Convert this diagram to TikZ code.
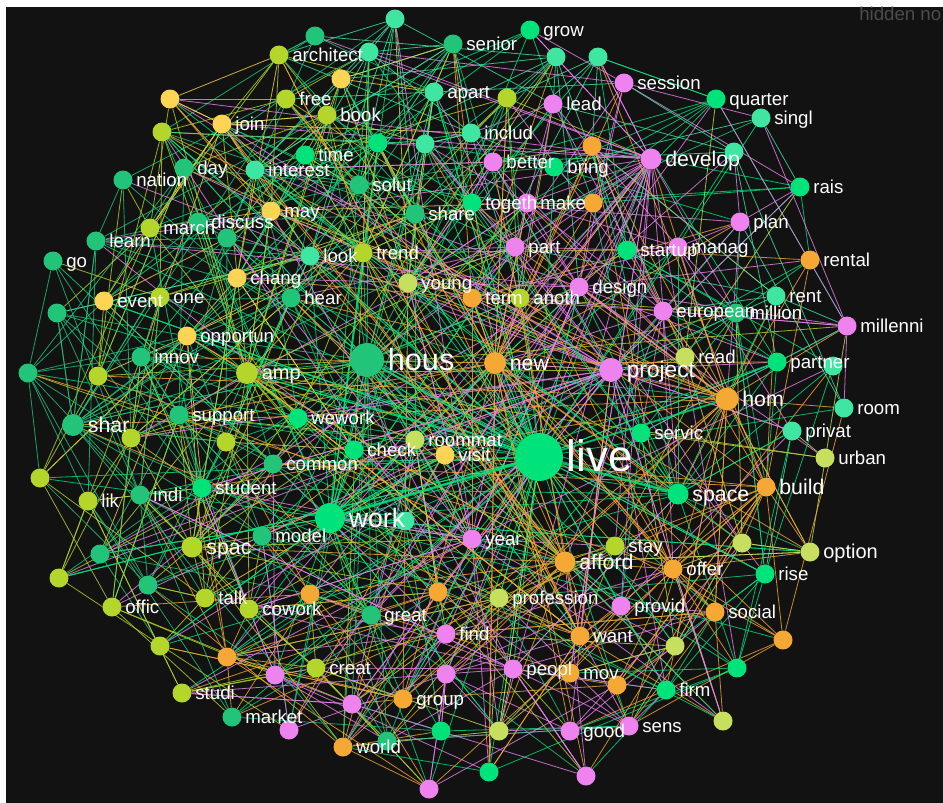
\documentclass[tikz,border=0pt]{standalone}
\usepackage{fontspec}
\setmainfont{Liberation Sans}

\definecolor{bgdark}{HTML}{121212}
\definecolor{cgrn}{HTML}{22C47A}
\definecolor{cmint}{HTML}{3FE6A2}
\definecolor{cbri}{HTML}{00E27A}
\definecolor{cyg}{HTML}{B4D62A}
\definecolor{cpale}{HTML}{C6DF5E}
\definecolor{cgold}{HTML}{FDD453}
\definecolor{corg}{HTML}{F5A833}
\definecolor{cvio}{HTML}{EE82EE}

\pgfdeclarelayer{bg}
\pgfdeclarelayer{fg}
\pgfsetlayers{bg,main,fg}

\tikzset{
  dot/.style={circle, inner sep=0pt, draw=none, fill=#1},
  lbl/.style={anchor=base west, inner sep=0pt, text=white, xshift=2.5pt},
  link/.style={draw=#1, line width=.6pt, opacity=.8},
}

\begin{document}
\begin{tikzpicture}[x=.75pt, y=-.75pt]
    \useasboundingbox (0,0) rectangle (943,803);
    \begin{pgfonlayer}{bg}
    \fill[white] (0,0) rectangle (943,803);
    \fill[bgdark] (6,7) rectangle (943,803); %dark canvas
    \end{pgfonlayer}

    % words: label/x/y/colour/radius/font size (0 = no label)
    \foreach \t/\x/\y/\c/\r/\fs [count=\i] in {
      -/395/19/cmint/9.5/0, -/315/36/cgrn/9.5/0, grow/530/30/cbri/9.5/14, senior/453/44/cgrn/9.5/14,
      -/369/52/cmint/9.5/0, architect/279/55/cyg/9.5/14, -/556/57/cmint/9.5/0, -/598/57/cmint/9.5/0,
      -/341/79/cgold/9.5/0, session/624/83/cvio/9.5/14, apart/434/92/cmint/9.5/14, -/507/98/cyg/9.5/0,
      -/170/99/cgold/9.5/0, free/286/99/cyg/9.5/14, quarter/716/99/cbri/9.5/14, lead/553/104/cvio/9.5/14,
      book/327/115/cyg/9.5/14, singl/761/118/cmint/9.5/14, join/222/124/cgold/9.5/14, -/162/132/cyg/9.5/0,
      includ/471/133/cmint/9.5/14, -/378/143/cbri/9.5/0, -/425/144/cmint/9.5/0, -/592/146/corg/9.5/0,
      -/734/152/cmint/9.5/0, time/305/155/cbri/9.5/14, develop/651/159/cvio/10.5/16, better/493/162/cvio/9.5/14,
      bring/554/167/cbri/9.5/14, day/184/168/cgrn/9.5/14, interest/255/170/cmint/9.5/14, nation/123/180/cgrn/9.5/14,
      solut/359/185/cgrn/9.5/14, rais/800/187/cbri/9.5/14, togeth/472/203/cbri/9.5/14, make/527/203/cvio/9.5/14,
      -/593/203/corg/9.5/0, may/271/211/cgold/9.5/14, share/415/214/cgrn/9.5/14, plan/740/222/cvio/9.5/14,
      discuss/198/222/cgrn/9.5/14, march/150/228/cyg/9.5/14, -/227/238/cgrn/9.5/0, learn/96/241/cgrn/9.5/14,
      part/515/247/cvio/9.5/14, manag/678/247/cvio/9.5/14, startup/627/250/cbri/9.5/14, trend/363/253/cyg/9.5/14,
      look/310/256/cmint/9.5/14, go/53/261/cgrn/9.5/14, rental/810/260/corg/9.5/14, chang/237/278/cgold/9.5/14,
      young/408/283/cpale/9.5/14, design/579/287/cvio/9.5/14, rent/776/296/cmint/9.5/14, one/160/297/cyg/9.5/14,
      hear/291/298/cgrn/9.5/14, term/472/298/corg/9.5/14, anoth/520/298/cyg/9.5/14, event/104/301/cgold/9.5/14,
      european/663/311/cvio/9.5/14, million/736/313/cgrn/9.5/14, -/57/313/cgrn/9.5/0, millenni/847/326/cvio/9.5/14,
      opportun/187/336/cgold/9.5/14, read/685/357/cpale/9.5/14, innov/141/357/cgrn/9.5/14, hous/367/360/cgrn/17/23,
      partner/777/362/cbri/9.5/14, new/495/363/corg/11/16, -/833/366/cmint/9.5/0, project/611/370/cvio/12/17,
      -/28/373/cgrn/9.5/0, amp/247/373/cyg/11/15, -/98/376/cyg/9.5/0, hom/727/399/corg/11.5/16,
      room/844/408/cmint/9.5/14, support/179/415/cgrn/9.5/14, wework/298/418/cbri/9.5/14, shar/73/425/cgrn/11/16,
      privat/792/431/cmint/9.5/14, servic/641/433/cbri/9.5/14, -/131/438/cyg/9.5/0, roommat/415/440/cpale/9.5/14,
      -/226/442/cyg/9.5/0, check/354/450/cbri/9.5/14, visit/445/455/cgold/9.5/14, live/539/457/cbri/24/33,
      urban/825/458/cpale/9.5/14, common/273/464/cgrn/9.5/14, -/40/478/cyg/9.5/0, build/766/487/corg/9.5/16,
      student/202/488/cbri/9.5/14, space/678/494/cbri/10.5/16, indi/140/495/cgrn/9.5/14, lik/88/501/cyg/9.5/14,
      work/330/518/cbri/15/20, -/405/521/cmint/9.5/0, model/262/536/cgrn/9.5/14, year/472/539/cvio/9.5/14,
      -/742/543/cpale/9.5/0, stay/615/546/cyg/9.5/14, spac/192/547/cyg/10.5/16, option/810/552/cpale/9.5/15,
      -/100/554/cgrn/9.5/0, afford/565/562/corg/10.5/16, offer/673/569/corg/9.5/14, rise/765/574/cbri/9.5/14,
      -/59/578/cyg/9.5/0, -/148/585/cgrn/9.5/0, -/438/592/corg/9.5/0, -/310/594/corg/9.5/0,
      talk/205/598/cyg/9.5/14, profession/499/598/cpale/9.5/14, provid/621/606/cvio/9.5/14, offic/112/607/cyg/9.5/14,
      cowork/249/609/cyg/9.5/14, social/715/612/corg/9.5/14, great/371/615/cgrn/9.5/14, find/446/634/cvio/9.5/14,
      want/580/636/corg/9.5/14, -/783/640/corg/9.5/0, -/675/646/cpale/9.5/0, -/160/646/cyg/9.5/0,
      -/227/657/corg/9.5/0, creat/316/668/cyg/9.5/14, -/737/668/cbri/9.5/0, peopl/513/669/cvio/9.5/14,
      mov/570/673/corg/9.5/14, -/275/675/cvio/9.5/0, -/446/674/cvio/9.5/0, -/617/685/corg/9.5/0,
      firm/666/690/cbri/9.5/14, studi/182/693/cyg/9.5/14, group/403/699/corg/9.5/14, -/352/704/cvio/9.5/0,
      market/232/717/cgrn/9.5/14, -/723/721/cpale/9.5/0, sens/629/726/cvio/9.5/14, -/289/730/cvio/9.5/0,
      -/499/731/cpale/9.5/0, good/570/731/cvio/9.5/14, -/441/731/cbri/9.5/0, -/387/741/cgrn/9.5/0,
      world/343/747/corg/9.5/14, -/489/772/cbri/9.5/0, -/586/776/cvio/9.5/0, -/429/789/cvio/9.5/0%
    }{
      \expandafter\xdef\csname nc\i\endcsname{\c}
      \expandafter\xdef\csname nx\i\endcsname{\x}
      \expandafter\xdef\csname ny\i\endcsname{\y}
      \ifdim\fs pt>0pt
        \node[dot=\c, minimum size=\r*1.5pt, alias=\t] (n\i) at (\x,\y) {};
        \begin{pgfonlayer}{fg}
        \node[lbl, yshift=-\fs*0.34pt, font=\fontsize{\fs}{\fs}\selectfont] at (n\i.east) {\t};
        \end{pgfonlayer}
      \else
        \node[dot=\c, minimum size=\r*1.5pt] (n\i) at (\x,\y) {};
      \fi
    }

    \begin{pgfonlayer}{bg}
    \pgfmathsetseed{2024}
    % short links between neighbouring words
    \foreach \a in {1,...,148}{
      \foreach \k in {1,...,17}{
        \pgfmathrandominteger{\b}{1}{148}
        \pgfmathtruncatemacro\near{veclen((\csname nx\a\endcsname-\csname nx\b\endcsname)/100,(\csname ny\a\endcsname-\csname ny\b\endcsname)/100)<2.8}
        \edef\cc{\csname nc\a\endcsname}
        \ifnum\near=1 \ifnum\a=\b\else
          \draw[link=\cc] (n\a) -- (n\b);
        \fi\fi
      }
    }
    % hubs reach across the whole cloud
    \foreach \h/\c/\m in {live/cbri/75, hous/cgrn/45, work/cbri/40, project/cvio/30, develop/cvio/28,
        new/corg/24, hom/corg/24, afford/corg/16, space/cbri/16, amp/cyg/16, shar/cgrn/14, spac/cyg/14,
        peopl/cvio/10, design/cvio/10, year/cvio/10, build/corg/10, want/corg/10, offer/corg/8, trend/cyg/8}{
      \foreach \k in {1,...,\m}{
        \pgfmathrandominteger{\b}{1}{148}
        \draw[link=\c] (\h) -- (n\b);
      }
    }
    \draw[link=cbri, line width=2pt] (live) -- (work); %strongest ties
    \draw[link=cbri, line width=1.6pt] (live) -- (space);
    \draw[link=cbri, line width=1.4pt] (live) -- (hom);
    \draw[link=cgrn, line width=1.2pt] (live) -- (hous);
    \end{pgfonlayer}

    \node[anchor=west, inner sep=0pt, text=gray!60!black, font=\fontsize{14}{14}\selectfont] (hid) at (859,14) {hidden no};
\end{tikzpicture}
\end{document}
